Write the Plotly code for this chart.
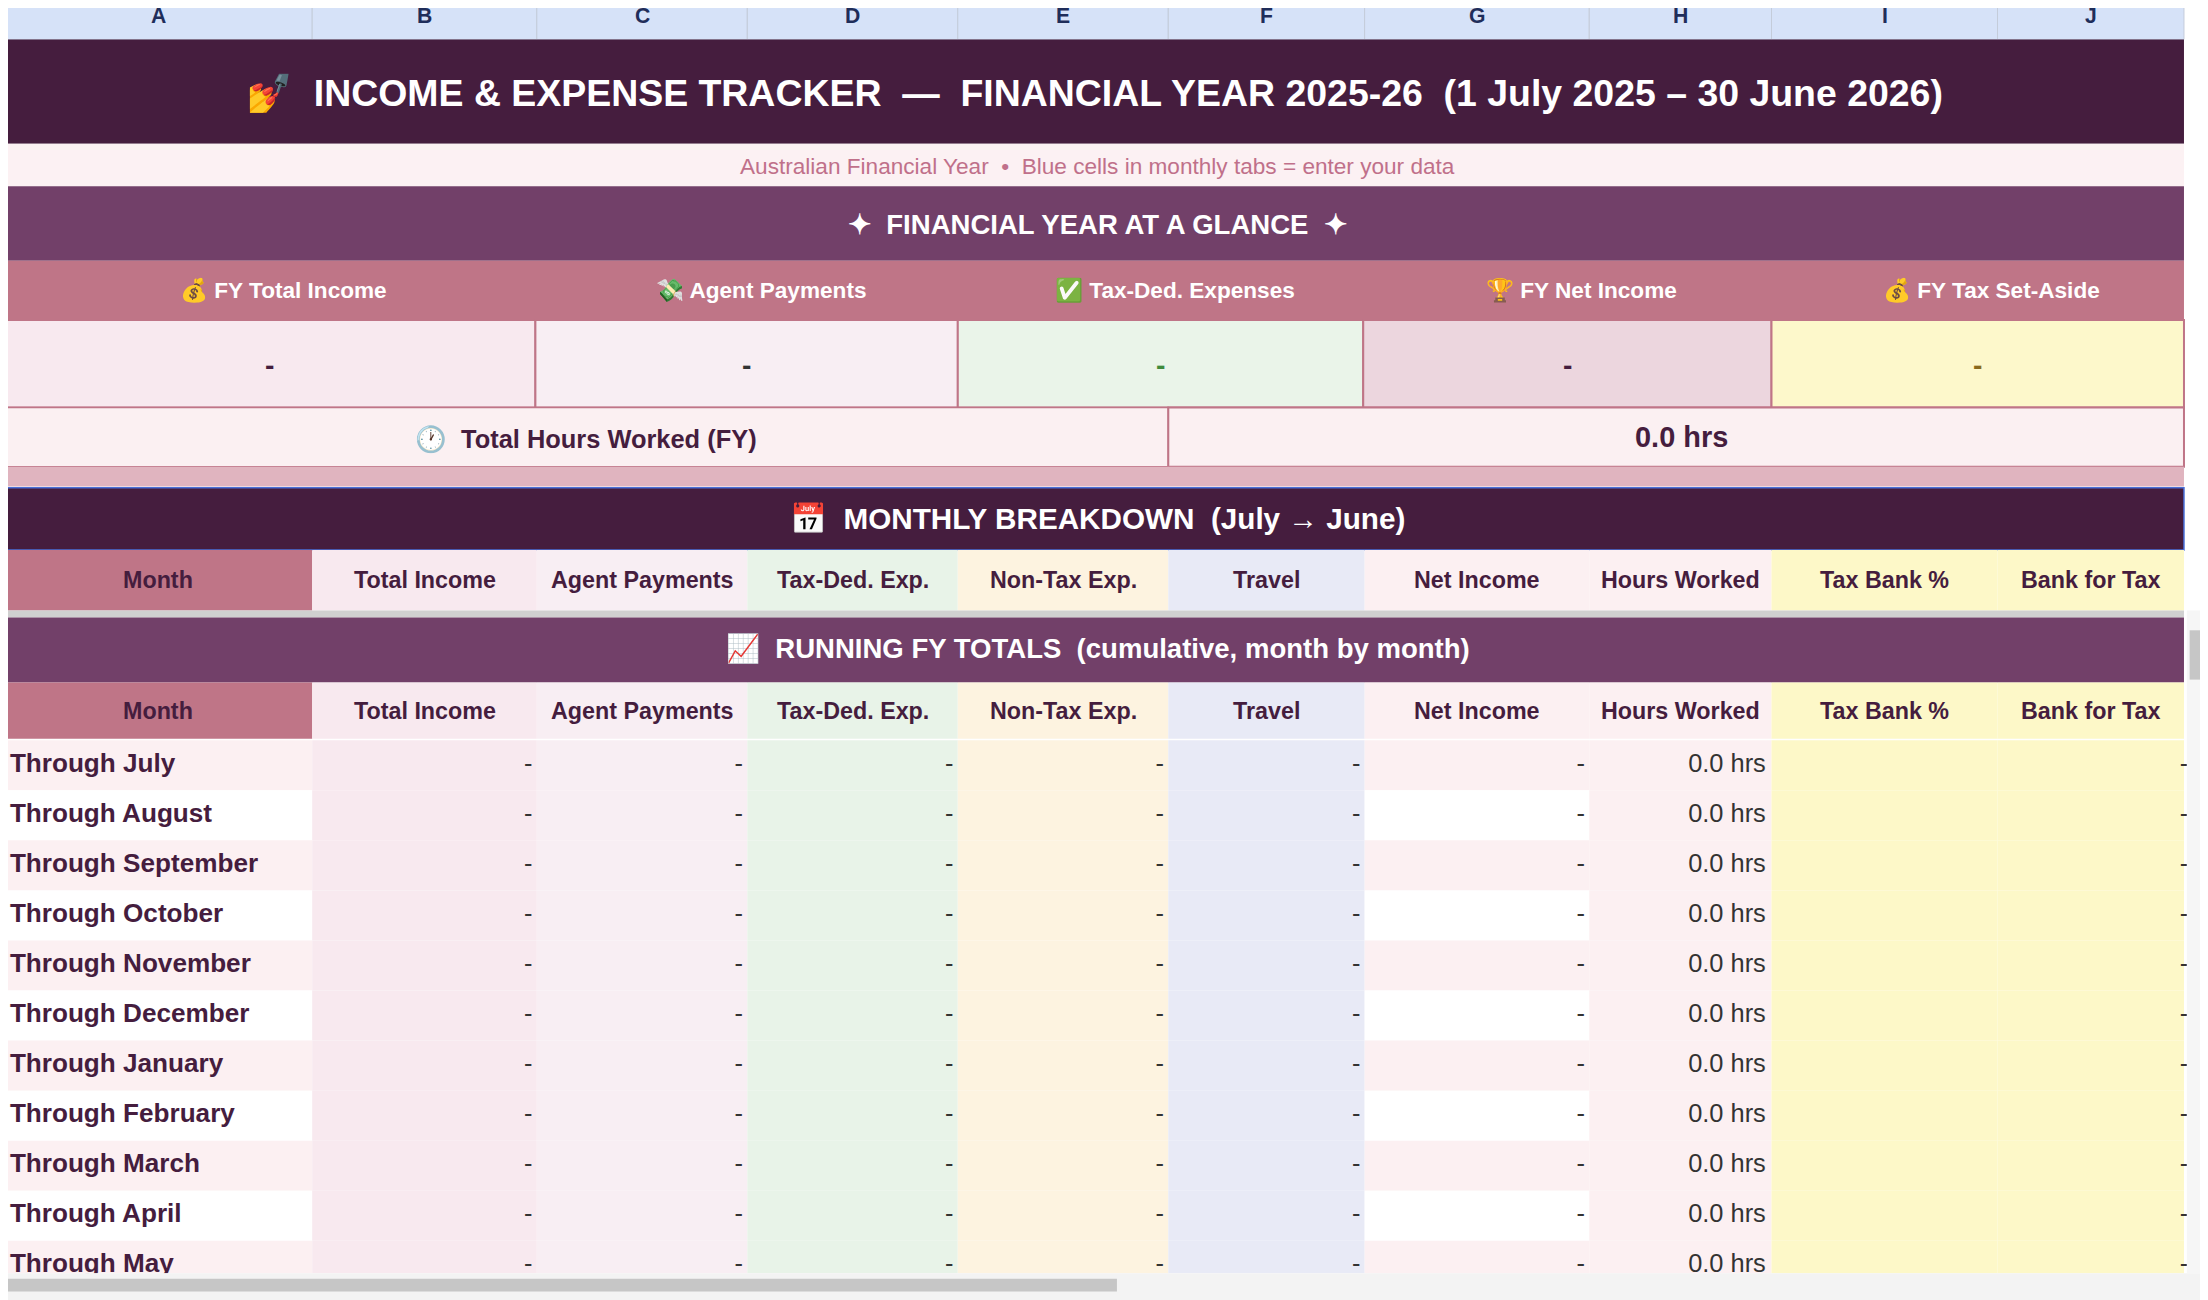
import plotly.graph_objects as go

# ---- data ----
col_letters = ["A", "B", "C", "D", "E", "F", "G", "H", "I", "J"]
col_headers = ["Month", "Total Income", "Agent Payments", "Tax-Ded. Exp.", "Non-Tax Exp.",
               "Travel", "Net Income", "Hours Worked", "Tax Bank %", "Bank for Tax"]
months = ["July", "August", "September", "October", "November", "December",
          "January", "February", "March", "April", "May", "June"]
total_income = [0] * 12
agent_payments = [0] * 12
tax_ded_exp = [0] * 12
non_tax_exp = [0] * 12
travel = [0] * 12
net_income = [0] * 12
hours_worked = [0.0] * 12
card_labels = ["💰 FY Total Income", "💸 Agent Payments", "✅ Tax-Ded. Expenses",
               "🏆 FY Net Income", "💰 FY Tax Set-Aside"]
card_values = [0, 0, 0, 0, 0]
fy_hours = 0.0

# ---- layout geometry (in screen units of a 1563 x 922 sheet) ----
W, H = 1563, 922
S = 2208 / W
OFF = 8 / S  # page body margin, shift to line up with the sheet
edges = [3, 221, 380, 529, 678, 827, 966, 1125, 1254, 1414, 1546]
card_edges = [3, 379, 678, 965, 1254, 1546]
DARK = "#451d3e"
PLUM = "#724069"
ROSE = "#bf7587"
FONT = "Liberation Sans, Arial, sans-serif"

col_fill = ["#fcf0f2", "#f8e9ef", "#f8eef3", "#e8f3e8", "#fdf3e0",
            "#e8eaf6", "#fcf0f2", "#fcf0f2", "#fdf8c8", "#fdf8c8"]
card_fill = ["#f8e9ef", "#f8eef3", "#eaf4e9", "#ecd6de", "#fdf8cb"]
card_val_color = [DARK, "#333333", "#3f8a3c", DARK, "#8a6a1c"]

shapes, anns = [], []


def rect(x0, x1, y0, y1, fill, line=None, lw=0):
    shapes.append(dict(type="rect", x0=x0, x1=x1, y0=y0, y1=y1, layer="below",
                       fillcolor=fill, line=dict(color=line or fill, width=lw)))


def label(x, y, t, size, color, bold=True, xanchor="center"):
    anns.append(dict(x=x, y=y, text=f"<b>{t}</b>" if bold else t, showarrow=False,
                     xanchor=xanchor, yanchor="middle",
                     font=dict(size=size * S, color=color, family=FONT)))


rect(-20, W + 20, -20, H, "white")
# column letter row
for i, c in enumerate(col_letters):
    rect(edges[i], edges[i + 1], 0, 28, "#d6e2f8", "#c4ccda", 1)
    label((edges[i] + edges[i + 1]) / 2, 11, c, 15, "#1f2d5a")

# title
rect(3, 1546, 28, 102, DARK)
label(775, 66, "💅  INCOME &amp; EXPENSE TRACKER  —  FINANCIAL YEAR 2025-26  (1 July 2025 – 30 June 2026)", 26.5, "white")
rect(3, 1546, 102, 132, "#fcf1f3")
label(777, 118, "Australian Financial Year  •  Blue cells in monthly tabs = enter your data", 16, "#c0708a", bold=False)
rect(3, 1546, 132, 185, PLUM)
label(777, 159, "✦  FINANCIAL YEAR AT A GLANCE  ✦", 19.5, "white")

# cards
rect(3, 1546, 185, 227, ROSE)
for i in range(5):
    x0, x1 = card_edges[i], card_edges[i + 1]
    cx = (x0 + x1) / 2
    label(cx + 10, 206, card_labels[i], 16, "white")
    rect(x0, x1, 227, 289, card_fill[i], ROSE, 2)
    v = card_values[i]
    label(cx, 259, "-" if v == 0 else f"{v:,.2f}", 20, card_val_color[i])

# hours row
rect(3, 827, 289, 331, "#fbf0f2", ROSE, 1.5)
rect(827, 1546, 289, 331, "#fbf0f2", ROSE, 2)
label(415, 311, "🕐  Total Hours Worked (FY)", 18, DARK)
label(1190, 310, f"{fy_hours:.1f} hrs", 20.5, DARK)
rect(3, 1546, 331, 345, "#e0b4bf")

# monthly breakdown
rect(3, 1546, 346, 390, DARK, "#4a6fd8", 1.5)
label(777, 368, "📅  MONTHLY BREAKDOWN  (July → June)", 21, "white")


def header_row(y0, y1):
    for i, h in enumerate(col_headers):
        rect(edges[i], edges[i + 1], y0, y1, ROSE if i == 0 else col_fill[i])
        label((edges[i] + edges[i + 1]) / 2, (y0 + y1) / 2, h, 16.5, DARK)


header_row(390, 433)
rect(3, 1546, 433, 438, "#d0d0d0")
rect(3, 1546, 438, 484, PLUM)
label(777, 460, "📈  RUNNING FY TOTALS  (cumulative, month by month)", 19.5, "white")
header_row(484, 524)

# running totals rows
row_h = 35.5
y_top = 525
series = [total_income, agent_payments, tax_ded_exp, non_tax_exp, travel, net_income]
cum = [[sum(s[:k + 1]) for k in range(12)] for s in series]
cum_hours = [sum(hours_worked[:k + 1]) for k in range(12)]

row_y = [y_top + row_h * (k + 0.5) for k in range(12)]
for k in range(12):
    y0 = y_top + row_h * k
    for i in range(10):
        f = col_fill[i]
        if i in (0, 6) and k % 2 == 1:
            f = "white"
        rect(edges[i], edges[i + 1], y0, y0 + row_h, f)

fig = go.Figure()
fig.add_trace(go.Scatter(x=[7] * 12, y=row_y, mode="text",
                         text=[f"<b>Through {m}</b>" for m in months],
                         textposition="middle right",
                         textfont=dict(size=18.5 * S, color=DARK, family=FONT)))
for j, vals in enumerate(cum):
    fig.add_trace(go.Scatter(x=[edges[j + 2] - 3] * 12, y=row_y, mode="text",
                             text=["-" if v == 0 else f"{v:,.2f}" for v in vals],
                             textposition="middle left",
                             textfont=dict(size=18 * S, color="#333333", family=FONT)))
fig.add_trace(go.Scatter(x=[edges[8] - 4] * 12, y=row_y, mode="text",
                         text=[f"{h:.1f} hrs" for h in cum_hours],
                         textposition="middle left",
                         textfont=dict(size=18 * S, color="#333333", family=FONT)))
fig.add_trace(go.Scatter(x=[edges[10] + 3] * 12, y=row_y, mode="text",
                         text=["-"] * 12, textposition="middle left",
                         textfont=dict(size=18 * S, color="#333333", family=FONT)))

# scrollbars
shapes.append(dict(type="rect", xref="paper", yref="paper", x0=0, x1=1, y0=0, y1=(19 + OFF) / H,
                   fillcolor="#f3f3f3", line=dict(width=0)))
shapes.append(dict(type="rect", xref="paper", yref="paper", x0=0, x1=785 / W,
                   y0=(6 + OFF) / H, y1=(15 + OFF) / H, fillcolor="#c6c6c6", line=dict(width=0)))
shapes.append(dict(type="rect", x0=1548, x1=W + 20, y0=433, y1=903, layer="above",
                   fillcolor="#f6f6f6", line=dict(width=0)))
shapes.append(dict(type="rect", x0=1550, x1=1560, y0=447, y1=482, layer="above",
                   fillcolor="#c6c6c6", line=dict(width=0)))

fig.update_layout(
    width=2208, height=1300, margin=dict(l=0, r=0, t=0, b=0),
    paper_bgcolor="white", plot_bgcolor="white", showlegend=False,
    xaxis=dict(range=[OFF, W + OFF], visible=False, fixedrange=True),
    yaxis=dict(range=[903, OFF], visible=False, fixedrange=True, domain=[(19 + OFF) / H, 1]),
    shapes=shapes, annotations=anns,
)
fig.write_html("out.html")
